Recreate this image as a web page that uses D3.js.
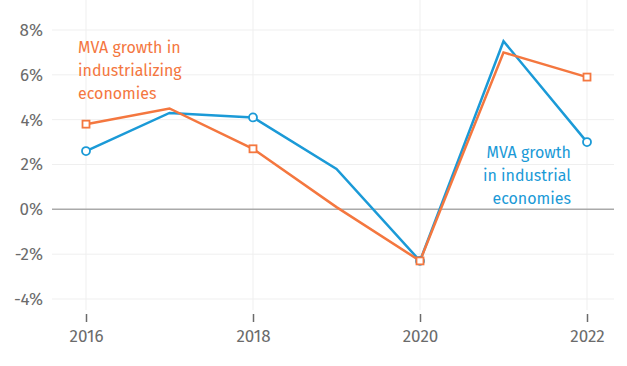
<!DOCTYPE html>
<html><head><meta charset="utf-8">
<script src="https://cdn.jsdelivr.net/npm/d3@7"></script>
<style>body{margin:0;background:#fff}svg{display:block}</style>
</head><body>
<svg id="c" width="627" height="366"></svg>
<script>
const years = [2016, 2017, 2018, 2019, 2020, 2021, 2022];
const industrial = [2.6, 4.3, 4.1, 1.8, -2.3, 7.5, 3.0];
const industrializing = [3.8, 4.5, 2.7, 0.1, -2.3, 7.0, 5.9];
const yTicks = [-4, -2, 0, 2, 4, 6, 8];
const xTicks = [2016, 2018, 2020, 2022];

const svg = d3.select("#c");
const font = "'Fira Sans', 'Open Sans', 'Noto Sans', sans-serif";
const x = d3.scaleLinear().domain([2016, 2022]).range([86, 587]);
const y = d3.scaleLinear().domain([-4, 8]).range([299, 30]);
const blue = "#1b9ad7", orange = "#f4773f", grey = "#6b6b6b";

// gridlines
svg.append("g").selectAll("line").data(yTicks.filter(d => d !== 0)).join("line")
  .attr("x1", 52).attr("x2", 614).attr("y1", d => y(d)).attr("y2", d => y(d))
  .attr("stroke", "#efefef").attr("stroke-width", 1);
svg.append("g").selectAll("line").data(xTicks).join("line")
  .attr("x1", d => x(d)).attr("x2", d => x(d)).attr("y1", 0).attr("y2", 310)
  .attr("stroke", "#efefef").attr("stroke-width", 1);
svg.append("line").attr("x1", 52).attr("x2", 614).attr("y1", y(0)).attr("y2", y(0))
  .attr("stroke", "#aaa").attr("stroke-width", 1.5);

// y axis labels
const yAxis = d3.axisLeft(y).tickValues(yTicks).tickSize(0).tickPadding(0)
  .tickFormat(d => d + "%");
const gy = svg.append("g").attr("transform", "translate(43,0)").call(yAxis);
gy.select(".domain").remove();
gy.selectAll("text").attr("font-family", font).attr("font-size", 17).attr("fill", grey);

// x axis
const xAxis = d3.axisBottom(x).tickValues(xTicks).tickSize(8).tickPadding(8)
  .tickFormat(d3.format("d"));
const gx = svg.append("g").attr("transform", "translate(0,314)").call(xAxis);
gx.select(".domain").remove();
gx.selectAll("line").attr("stroke", grey).attr("stroke-width", 1.5);
gx.selectAll("text").attr("font-family", font).attr("font-size", 17).attr("fill", grey);

const line = d3.line().x((d, i) => x(years[i])).y(d => y(d));
svg.append("path").datum(industrial).attr("d", line)
  .attr("fill", "none").attr("stroke", blue).attr("stroke-width", 2.5).attr("stroke-linejoin", "miter");
svg.append("path").datum(industrializing).attr("d", line)
  .attr("fill", "none").attr("stroke", orange).attr("stroke-width", 2.5);

const markIdx = years.map((d, i) => i).filter(i => years[i] % 2 === 0);
svg.append("g").selectAll("circle").data(markIdx).join("circle")
  .attr("cx", i => x(years[i])).attr("cy", i => y(industrial[i])).attr("r", 4)
  .attr("fill", "#fff").attr("stroke", blue).attr("stroke-width", 1.8);
svg.append("g").selectAll("rect").data(markIdx).join("rect")
  .attr("x", i => x(years[i]) - 3.5).attr("y", i => y(industrializing[i]) - 3.5)
  .attr("width", 7).attr("height", 7)
  .attr("fill", "#fff").attr("stroke", orange).attr("stroke-width", 1.8);

// annotations
const a1 = svg.append("text").attr("font-family", font).attr("font-size", 16).attr("fill", orange);
["MVA growth in", "industrializing", "economies"].forEach((t, i) =>
  a1.append("tspan").attr("x", 78).attr("y", 53 + i * 23).text(t));
const a2 = svg.append("text").attr("font-family", font).attr("font-size", 16).attr("fill", blue)
  .attr("text-anchor", "end");
["MVA growth", "in industrial", "economies"].forEach((t, i) =>
  a2.append("tspan").attr("x", 571).attr("y", 158 + i * 23).text(t));
</script>
</body></html>
